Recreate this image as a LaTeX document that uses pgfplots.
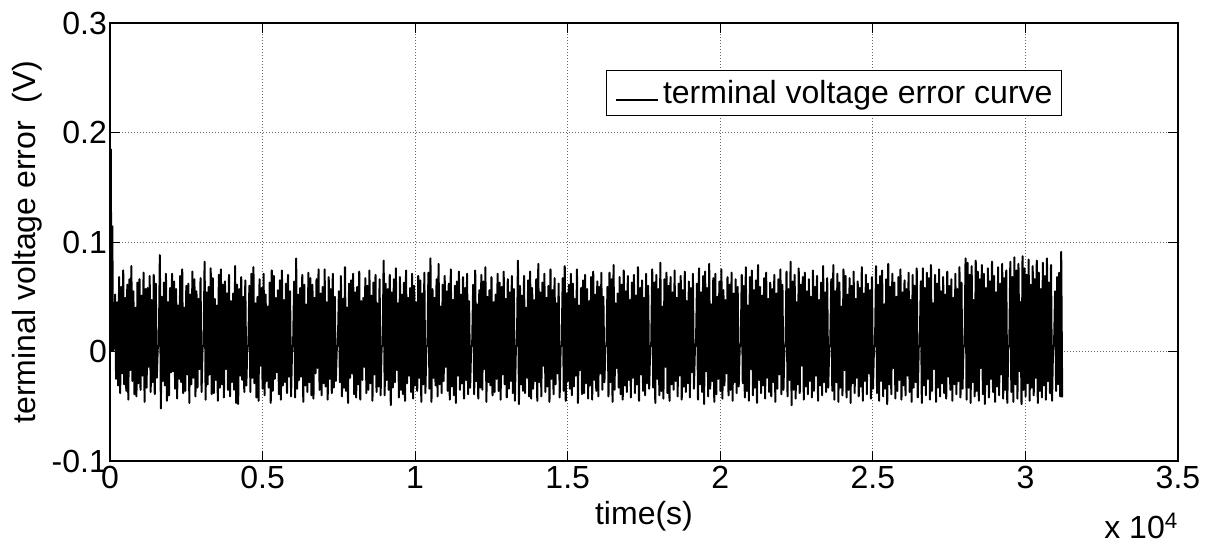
\documentclass[border=0pt]{standalone}
\usepackage{pgfplots}
\usepackage{pgfplotstable}
\pgfplotsset{compat=1.18}
\usepackage{fontspec}
\setmainfont{Liberation Sans}

\pgfplotstableread[row sep=\\]{
y\\
0.000\\ 0.010\\ 0.052\\ -0.025\\ 0.045\\ -0.031\\ 0.068\\ -0.038\\ 0.059\\ -0.020\\ 0.074\\ -0.030\\ 0.049\\ -0.036\\ 0.061\\ -0.044\\ 0.066\\ -0.017\\ 0.078\\ -0.027\\ 0.055\\ -0.039\\ 0.040\\ -0.041\\ 0.063\\ -0.029\\ 0.066\\ -0.035\\ 0.051\\ -0.022\\ 0.072\\ -0.046\\ 0.057\\ -0.033\\ 0.058\\ -0.014\\ 0.069\\ -0.037\\ 0.047\\ -0.028\\ 0.070\\ -0.039\\ 0.062\\ -0.024\\
0.004\\ 0.006\\ 0.088\\ -0.052\\ 0.050\\ -0.027\\ 0.063\\ -0.031\\ 0.071\\ -0.045\\ 0.045\\ -0.040\\ 0.058\\ -0.019\\ 0.071\\ -0.018\\ 0.064\\ -0.034\\ 0.057\\ -0.043\\ 0.042\\ -0.025\\ 0.069\\ -0.028\\ 0.075\\ -0.038\\ 0.040\\ -0.036\\ 0.060\\ -0.021\\ 0.062\\ -0.047\\ 0.052\\ -0.030\\ 0.073\\ -0.024\\ 0.066\\ -0.041\\ 0.055\\ -0.033\\ 0.048\\ -0.016\\ 0.067\\ -0.037\\
0.004\\ 0.006\\ 0.082\\ -0.044\\ 0.054\\ -0.030\\ 0.059\\ -0.021\\ 0.076\\ -0.039\\ 0.067\\ -0.038\\ 0.048\\ -0.026\\ 0.042\\ -0.045\\ 0.070\\ -0.033\\ 0.075\\ -0.030\\ 0.061\\ -0.042\\ 0.064\\ -0.016\\ 0.053\\ -0.035\\ 0.070\\ -0.041\\ 0.046\\ -0.028\\ 0.053\\ -0.035\\ 0.078\\ -0.047\\ 0.061\\ -0.048\\ 0.057\\ -0.022\\ 0.068\\ -0.026\\ 0.050\\ -0.037\\ 0.065\\ -0.031\\
0.004\\ 0.006\\ 0.060\\ -0.037\\ 0.071\\ -0.024\\ 0.077\\ -0.029\\ 0.044\\ -0.042\\ 0.050\\ -0.045\\ 0.066\\ -0.013\\ 0.058\\ -0.034\\ 0.071\\ -0.040\\ 0.052\\ -0.027\\ 0.041\\ -0.033\\ 0.063\\ -0.047\\ 0.074\\ -0.036\\ 0.069\\ -0.025\\ 0.049\\ -0.019\\ 0.056\\ -0.039\\ 0.065\\ -0.044\\ 0.074\\ -0.031\\ 0.047\\ -0.028\\ 0.062\\ -0.038\\ 0.070\\ -0.023\\ 0.055\\ -0.041\\
0.004\\ 0.006\\ 0.064\\ -0.042\\ 0.085\\ -0.034\\ 0.052\\ -0.026\\ 0.058\\ -0.023\\ 0.070\\ -0.046\\ 0.061\\ -0.031\\ 0.043\\ -0.037\\ 0.072\\ -0.028\\ 0.067\\ -0.040\\ 0.061\\ -0.043\\ 0.049\\ -0.020\\ 0.066\\ -0.015\\ 0.075\\ -0.035\\ 0.053\\ -0.040\\ 0.059\\ -0.029\\ 0.075\\ -0.032\\ 0.045\\ -0.044\\ 0.068\\ -0.025\\ 0.057\\ -0.038\\ 0.071\\ -0.033\\ 0.050\\ -0.027\\
0.004\\ 0.006\\ 0.055\\ -0.028\\ 0.069\\ -0.041\\ 0.048\\ -0.033\\ 0.077\\ -0.036\\ 0.040\\ -0.047\\ 0.062\\ -0.024\\ 0.065\\ -0.020\\ 0.071\\ -0.039\\ 0.054\\ -0.042\\ 0.059\\ -0.030\\ 0.073\\ -0.044\\ 0.046\\ -0.026\\ 0.049\\ -0.014\\ 0.067\\ -0.038\\ 0.060\\ -0.035\\ 0.074\\ -0.029\\ 0.051\\ -0.045\\ 0.063\\ -0.021\\ 0.070\\ -0.037\\ 0.044\\ -0.032\\ 0.066\\ -0.040\\
0.004\\ 0.006\\ 0.083\\ -0.040\\ 0.062\\ -0.026\\ 0.057\\ -0.035\\ 0.070\\ -0.049\\ 0.054\\ -0.033\\ 0.066\\ -0.028\\ 0.076\\ -0.017\\ 0.044\\ -0.042\\ 0.068\\ -0.035\\ 0.052\\ -0.039\\ 0.063\\ -0.045\\ 0.074\\ -0.029\\ 0.049\\ -0.022\\ 0.058\\ -0.037\\ 0.071\\ -0.043\\ 0.060\\ -0.031\\ 0.045\\ -0.036\\ 0.069\\ -0.024\\ 0.065\\ -0.046\\ 0.053\\ -0.030\\ 0.072\\ -0.038\\
0.004\\ 0.006\\ 0.072\\ -0.034\\ 0.085\\ -0.046\\ 0.057\\ -0.024\\ 0.049\\ -0.031\\ 0.066\\ -0.041\\ 0.080\\ -0.030\\ 0.041\\ -0.038\\ 0.061\\ -0.027\\ 0.069\\ -0.014\\ 0.055\\ -0.036\\ 0.062\\ -0.044\\ 0.075\\ -0.032\\ 0.047\\ -0.040\\ 0.060\\ -0.047\\ 0.064\\ -0.022\\ 0.073\\ -0.035\\ 0.052\\ -0.029\\ 0.068\\ -0.043\\ 0.058\\ -0.026\\ 0.071\\ -0.039\\ 0.046\\ -0.033\\
0.004\\ 0.006\\ 0.061\\ -0.039\\ 0.074\\ -0.027\\ 0.043\\ -0.043\\ 0.056\\ -0.033\\ 0.070\\ -0.035\\ 0.064\\ -0.016\\ 0.077\\ -0.046\\ 0.050\\ -0.028\\ 0.056\\ -0.031\\ 0.068\\ -0.040\\ 0.045\\ -0.037\\ 0.052\\ -0.025\\ 0.071\\ -0.036\\ 0.063\\ -0.044\\ 0.059\\ -0.021\\ 0.073\\ -0.030\\ 0.048\\ -0.042\\ 0.066\\ -0.034\\ 0.054\\ -0.027\\ 0.069\\ -0.038\\ 0.057\\ -0.045\\
0.004\\ 0.006\\ 0.083\\ -0.048\\ 0.060\\ -0.030\\ 0.051\\ -0.036\\ 0.069\\ -0.038\\ 0.040\\ -0.024\\ 0.065\\ -0.041\\ 0.073\\ -0.043\\ 0.058\\ -0.034\\ 0.047\\ -0.027\\ 0.066\\ -0.045\\ 0.080\\ -0.028\\ 0.054\\ -0.041\\ 0.063\\ -0.013\\ 0.071\\ -0.037\\ 0.049\\ -0.032\\ 0.060\\ -0.046\\ 0.075\\ -0.025\\ 0.056\\ -0.039\\ 0.067\\ -0.030\\ 0.044\\ -0.020\\ 0.062\\ -0.042\\
0.004\\ 0.006\\ 0.067\\ -0.036\\ 0.078\\ -0.045\\ 0.053\\ -0.027\\ 0.061\\ -0.034\\ 0.071\\ -0.040\\ 0.062\\ -0.032\\ 0.048\\ -0.022\\ 0.075\\ -0.047\\ 0.042\\ -0.017\\ 0.058\\ -0.039\\ 0.065\\ -0.038\\ 0.070\\ -0.029\\ 0.057\\ -0.043\\ 0.046\\ -0.031\\ 0.068\\ -0.044\\ 0.073\\ -0.026\\ 0.052\\ -0.036\\ 0.064\\ -0.041\\ 0.059\\ -0.020\\ 0.072\\ -0.035\\ 0.050\\ -0.028\\
0.004\\ 0.006\\ 0.059\\ -0.041\\ 0.072\\ -0.028\\ 0.066\\ -0.046\\ 0.079\\ -0.035\\ 0.044\\ -0.015\\ 0.053\\ -0.033\\ 0.068\\ -0.039\\ 0.061\\ -0.044\\ 0.074\\ -0.031\\ 0.055\\ -0.037\\ 0.069\\ -0.026\\ 0.047\\ -0.042\\ 0.063\\ -0.024\\ 0.070\\ -0.038\\ 0.051\\ -0.030\\ 0.077\\ -0.045\\ 0.058\\ -0.021\\ 0.065\\ -0.036\\ 0.049\\ -0.040\\ 0.071\\ -0.029\\ 0.060\\ -0.034\\
0.004\\ 0.006\\ 0.075\\ -0.033\\ 0.063\\ -0.047\\ 0.070\\ -0.025\\ 0.057\\ -0.040\\ 0.081\\ -0.036\\ 0.041\\ -0.043\\ 0.066\\ -0.014\\ 0.072\\ -0.038\\ 0.060\\ -0.045\\ 0.068\\ -0.030\\ 0.054\\ -0.035\\ 0.074\\ -0.027\\ 0.049\\ -0.041\\ 0.062\\ -0.022\\ 0.069\\ -0.044\\ 0.056\\ -0.032\\ 0.073\\ -0.037\\ 0.046\\ -0.029\\ 0.064\\ -0.042\\ 0.058\\ -0.019\\ 0.071\\ -0.034\\
0.004\\ 0.006\\ 0.062\\ -0.044\\ 0.076\\ -0.030\\ 0.054\\ -0.037\\ 0.069\\ -0.048\\ 0.073\\ -0.018\\ 0.058\\ -0.041\\ 0.080\\ -0.034\\ 0.043\\ -0.027\\ 0.067\\ -0.046\\ 0.071\\ -0.039\\ 0.050\\ -0.025\\ 0.064\\ -0.036\\ 0.075\\ -0.043\\ 0.056\\ -0.031\\ 0.047\\ -0.020\\ 0.068\\ -0.040\\ 0.061\\ -0.035\\ 0.072\\ -0.045\\ 0.053\\ -0.028\\ 0.066\\ -0.038\\ 0.059\\ -0.032\\
0.004\\ 0.006\\ 0.070\\ -0.029\\ 0.060\\ -0.042\\ 0.077\\ -0.036\\ 0.042\\ -0.045\\ 0.068\\ -0.016\\ 0.074\\ -0.040\\ 0.056\\ -0.033\\ 0.065\\ -0.047\\ 0.079\\ -0.026\\ 0.059\\ -0.038\\ 0.051\\ -0.031\\ 0.067\\ -0.043\\ 0.072\\ -0.024\\ 0.048\\ -0.037\\ 0.063\\ -0.041\\ 0.057\\ -0.028\\ 0.070\\ -0.046\\ 0.053\\ -0.034\\ 0.066\\ -0.021\\ 0.075\\ -0.039\\ 0.061\\ -0.035\\
0.004\\ 0.006\\ 0.073\\ -0.041\\ 0.057\\ -0.026\\ 0.082\\ -0.049\\ 0.064\\ -0.035\\ 0.070\\ -0.043\\ 0.045\\ -0.030\\ 0.076\\ -0.038\\ 0.061\\ -0.013\\ 0.068\\ -0.044\\ 0.072\\ -0.032\\ 0.055\\ -0.039\\ 0.066\\ -0.027\\ 0.050\\ -0.042\\ 0.074\\ -0.036\\ 0.059\\ -0.022\\ 0.069\\ -0.045\\ 0.047\\ -0.031\\ 0.063\\ -0.040\\ 0.078\\ -0.028\\ 0.054\\ -0.037\\ 0.067\\ -0.033\\
0.004\\ 0.006\\ 0.066\\ -0.036\\ 0.079\\ -0.044\\ 0.055\\ -0.028\\ 0.071\\ -0.046\\ 0.063\\ -0.033\\ 0.041\\ -0.040\\ 0.075\\ -0.017\\ 0.069\\ -0.042\\ 0.052\\ -0.035\\ 0.067\\ -0.047\\ 0.060\\ -0.029\\ 0.073\\ -0.038\\ 0.048\\ -0.024\\ 0.064\\ -0.041\\ 0.058\\ -0.032\\ 0.077\\ -0.045\\ 0.053\\ -0.027\\ 0.070\\ -0.039\\ 0.062\\ -0.020\\ 0.056\\ -0.043\\ 0.068\\ -0.034\\
0.004\\ 0.006\\ 0.078\\ -0.038\\ 0.061\\ -0.045\\ 0.069\\ -0.027\\ 0.074\\ -0.041\\ 0.043\\ -0.034\\ 0.066\\ -0.048\\ 0.080\\ -0.030\\ 0.059\\ -0.039\\ 0.071\\ -0.015\\ 0.063\\ -0.043\\ 0.050\\ -0.036\\ 0.068\\ -0.026\\ 0.075\\ -0.044\\ 0.054\\ -0.031\\ 0.065\\ -0.040\\ 0.057\\ -0.022\\ 0.072\\ -0.037\\ 0.047\\ -0.046\\ 0.070\\ -0.033\\ 0.060\\ -0.028\\ 0.076\\ -0.042\\
0.004\\ 0.006\\ 0.064\\ -0.047\\ 0.076\\ -0.031\\ 0.058\\ -0.040\\ 0.072\\ -0.025\\ 0.067\\ -0.044\\ 0.079\\ -0.036\\ 0.044\\ -0.016\\ 0.070\\ -0.046\\ 0.062\\ -0.033\\ 0.075\\ -0.041\\ 0.055\\ -0.029\\ 0.068\\ -0.038\\ 0.052\\ -0.043\\ 0.073\\ -0.023\\ 0.060\\ -0.035\\ 0.066\\ -0.045\\ 0.049\\ -0.030\\ 0.071\\ -0.039\\ 0.057\\ -0.027\\ 0.077\\ -0.042\\ 0.063\\ -0.034\\
0.004\\ 0.006\\ 0.085\\ -0.044\\ 0.081\\ -0.033\\ 0.070\\ -0.047\\ 0.078\\ -0.028\\ 0.047\\ -0.041\\ 0.083\\ -0.036\\ 0.073\\ -0.045\\ 0.066\\ -0.015\\ 0.079\\ -0.039\\ 0.071\\ -0.048\\ 0.058\\ -0.030\\ 0.076\\ -0.042\\ 0.064\\ -0.025\\ 0.082\\ -0.037\\ 0.069\\ -0.046\\ 0.054\\ -0.032\\ 0.077\\ -0.040\\ 0.062\\ -0.021\\ 0.080\\ -0.043\\ 0.067\\ -0.035\\ 0.074\\ -0.047\\
0.004\\ 0.006\\ 0.082\\ -0.037\\ 0.068\\ -0.046\\ 0.086\\ -0.030\\ 0.074\\ -0.043\\ 0.080\\ -0.018\\ 0.045\\ -0.048\\ 0.087\\ -0.035\\ 0.076\\ -0.041\\ 0.070\\ -0.029\\ 0.084\\ -0.045\\ 0.061\\ -0.033\\ 0.078\\ -0.040\\ 0.066\\ -0.024\\ 0.083\\ -0.047\\ 0.072\\ -0.036\\ 0.057\\ -0.042\\ 0.081\\ -0.031\\ 0.069\\ -0.044\\ 0.085\\ -0.027\\ 0.063\\ -0.038\\ 0.079\\ -0.045\\
0.004\\ 0.006\\ 0.055\\ -0.036\\ 0.068\\ -0.030\\ 0.072\\ -0.041\\ 0.091\\ -0.042\\
}\noisedata

\begin{document}
\begin{tikzpicture}
\path[use as bounding box] (-110pt,-90pt) rectangle (1096pt,461pt);
\begin{axis}[
  at={(0,0)}, anchor=south west,
  scale only axis, width=1068pt, height=438pt,
  xmin=0, xmax=35000, ymin=-0.1, ymax=0.3,
  xtick={0,5000,10000,15000,20000,25000,30000,35000},
  xticklabels={0,0.5,1,1.5,2,2.5,3,3.5},
  ytick={-0.1,0,0.1,0.2,0.3},
  yticklabels={-0.1,0,0.1,0.2,0.3},
  scaled x ticks=false,
  tick align=inside,
  major tick length=10pt,
  tick style={black, line width=0.8pt},
  axis line style={black, line width=1.2pt},
  grid=major,
  major grid style={black!60, line width=0.7pt, dash pattern=on 1pt off 2pt},
  ticklabel style={font=\fontsize{32}{35}\selectfont},
  xticklabel style={yshift=-2pt},
  yticklabel style={inner xsep=3pt},
  xlabel={time(s)},
  ylabel={terminal voltage error~~(V)},
  label style={font=\fontsize{32}{35}\selectfont},
  xlabel style={at={(axis description cs:0.5,0)}, anchor=north, inner sep=0pt, yshift=-40pt},
  ylabel style={at={(axis description cs:-0.0637,0.5)}, anchor=south, inner sep=0pt},
  legend style={at={(rel axis cs:0.8914,0.8927)}, anchor=north east,
    draw=black, line width=0.9pt, fill=white,
    inner xsep=9pt, inner ysep=10pt,
    font=\fontsize{32}{35}\selectfont,
    nodes={inner sep=0pt, anchor=base west},
    column sep=4pt},
  legend image code/.code={\draw[black, line width=1.4pt] (0pt,0.36em) -- (42pt,0.36em);},
]
\addplot[black, line width=2pt, line join=miter, forget plot] coordinates {(0,0) (25,0.185) (50,0.0) (75,0.115) (100,0.0)};
\addplot[black, line width=2pt, line join=round] table[x expr={100+\coordindex*33.34}, y=y] {\noisedata};
\addlegendentry{terminal voltage error curve}
\end{axis}
\path (1068pt,-77pt) node[anchor=base east, inner sep=0pt, font=\fontsize{32}{35}\selectfont] {x 10\textsuperscript{4}};
\end{tikzpicture}
\end{document}
